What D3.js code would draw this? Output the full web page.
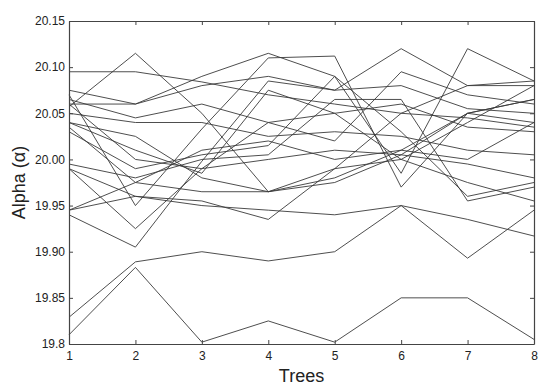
<!DOCTYPE html>
<html>
<head>
<meta charset="UTF-8">
<style>
  body { margin: 0; background: #fff; }
  svg { font-family: "Liberation Sans", Arial, sans-serif; }
</style>
</head>
<body>
<script src="https://d3js.org/d3.v7.min.js"></script>
<script>
var width = 550, height = 389;
var margin = { top: 21, right: 16, bottom: 45, left: 69 };

var trees = [1, 2, 3, 4, 5, 6, 7, 8];
var yTicks = [19.8, 19.85, 19.9, 19.95, 20.0, 20.05, 20.1, 20.15];
var yTickLabels = ["19.8", "19.85", "19.90", "19.95", "20.00", "20.05", "20.10", "20.15"];

// one array per run, alpha at each tree count
var s1  = [19.810, 19.883, 19.802, 19.825, 19.802, 19.850, 19.850, 19.805];
var s2  = [19.829, 19.889, 19.900, 19.890, 19.900, 19.950, 19.893, 19.945];
var s3  = [20.095, 20.095, 20.084, 20.070, 20.060, 20.050, 20.045, 20.035];
var s4  = [20.057, 20.115, 20.050, 19.965, 19.980, 20.010, 20.050, 20.040];
var s5  = [20.060, 20.060, 20.090, 20.115, 20.090, 20.030, 19.960, 19.975];
var s6  = [20.070, 19.950, 20.033, 20.110, 20.112, 19.970, 20.050, 20.065];
var s7  = [19.990, 19.925, 19.990, 20.040, 20.050, 20.000, 20.040, 20.080];
var s8  = [19.940, 19.905, 19.998, 20.085, 20.075, 20.080, 20.055, 20.050];
var s9  = [19.945, 19.960, 19.950, 19.945, 19.940, 19.950, 19.935, 19.917];
var s10 = [19.990, 19.960, 19.955, 19.935, 19.990, 20.000, 19.975, 19.955];
var s11 = [20.035, 19.975, 19.965, 19.965, 19.975, 20.005, 20.050, 20.065];
var s12 = [20.040, 20.025, 19.980, 19.965, 19.990, 20.050, 20.080, 20.080];
var s13 = [20.065, 20.045, 20.060, 20.040, 20.020, 20.095, 20.070, 20.060];
var s14 = [20.075, 20.060, 20.080, 20.090, 20.075, 20.120, 20.080, 20.085];
var s15 = [20.030, 19.990, 20.005, 20.015, 20.090, 19.985, 20.120, 20.085];
var s16 = [20.050, 20.040, 20.040, 20.025, 20.030, 20.025, 20.010, 20.005];
var s17 = [20.060, 20.000, 19.990, 20.000, 20.010, 20.005, 19.995, 19.980];
var s18 = [19.995, 19.980, 20.000, 20.005, 20.065, 20.065, 19.955, 19.970];
var s19 = [20.040, 20.010, 19.985, 20.075, 20.050, 20.060, 20.035, 20.030];
var s20 = [19.945, 19.975, 20.010, 20.020, 20.000, 20.010, 20.000, 20.040];

var series = [s1, s2, s3, s4, s5, s6, s7, s8, s9, s10,
              s11, s12, s13, s14, s15, s16, s17, s18, s19, s20];

var x = d3.scaleLinear().domain([1, 8]).range([margin.left, width - margin.right]);
var y = d3.scaleLinear().domain([19.8, 20.15]).range([height - margin.bottom, margin.top]);

var svg = d3.select("body").append("svg")
    .attr("width", width)
    .attr("height", height);

var line = d3.line()
    .x(function (d, i) { return x(trees[i]); })
    .y(function (d) { return y(d); });

svg.append("g").selectAll("path")
    .data(series)
    .enter().append("path")
    .attr("d", line)
    .attr("fill", "none")
    .attr("stroke", "#3a3a3a")
    .attr("stroke-width", 0.9);

// axes, ticks pointing inward like matlab
var tickLen = 4;
var fmtY = function (d, i) { return yTickLabels[i]; };

var axBottom = svg.append("g")
    .attr("transform", "translate(0," + (height - margin.bottom) + ")")
    .call(d3.axisBottom(x).tickValues(trees).tickFormat(d3.format("d")).tickSizeInner(-tickLen).tickSizeOuter(0).tickPadding(7));
var axTop = svg.append("g")
    .attr("transform", "translate(0," + margin.top + ")")
    .call(d3.axisTop(x).tickValues(trees).tickFormat("").tickSizeInner(-tickLen).tickSizeOuter(0));
var axLeft = svg.append("g")
    .attr("transform", "translate(" + margin.left + ",0)")
    .call(d3.axisLeft(y).tickValues(yTicks).tickFormat(fmtY).tickSizeInner(-tickLen).tickSizeOuter(0).tickPadding(4));
var axRight = svg.append("g")
    .attr("transform", "translate(" + (width - margin.right) + ",0)")
    .call(d3.axisRight(y).tickValues(yTicks).tickFormat("").tickSizeInner(-tickLen).tickSizeOuter(0));

[axBottom, axTop, axLeft, axRight].forEach(function (g) {
    g.select(".domain").attr("stroke", "#444").attr("stroke-width", 1.2);
    g.selectAll(".tick line").attr("stroke", "#444");
    g.selectAll("text").attr("font-size", 12).attr("fill", "#222")
        .style("font-family", "'Liberation Sans', Arial, sans-serif");
});

svg.append("text")
    .attr("x", (margin.left + width - margin.right) / 2)
    .attr("y", height - 7)
    .attr("text-anchor", "middle")
    .attr("font-size", 18)
    .attr("fill", "#222")
    .text("Trees");

svg.append("text")
    .attr("transform", "translate(25," + ((margin.top + height - margin.bottom) / 2) + ") rotate(-90)")
    .attr("text-anchor", "middle")
    .attr("font-size", 18)
    .attr("fill", "#222")
    .text("Alpha (α)");
</script>
</body>
</html>
